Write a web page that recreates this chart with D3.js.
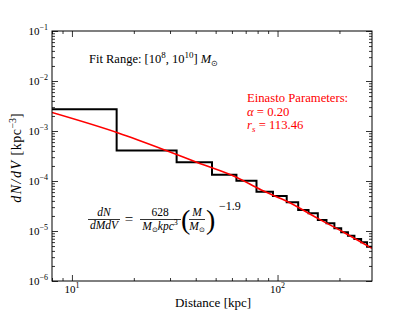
<!DOCTYPE html>
<html><head><meta charset="utf-8">
<script src="https://cdn.jsdelivr.net/npm/d3@7/dist/d3.min.js"></script>
<style>
html,body{margin:0;padding:0;background:#fff;}
svg text{font-family:"Liberation Serif","Times New Roman",serif;fill:#000;}
</style></head>
<body>
<svg id="chart" width="417" height="313"></svg>
<script>
// ---- data ----
const binEdges = [0, 16.5, 32.3, 48, 63.1, 79, 95, 110.8, 126, 141.5, 157, 173, 189, 204, 220, 236.5, 255, 272.5, 290];
const binValues = [2.72e-3, 4.07e-4, 2.37e-4, 1.34e-4, 1.01e-4, 6.11e-5, 5.01e-5, 3.75e-5, 2.63e-5, 2.26e-5, 1.66e-5, 1.43e-5, 1.13e-5, 9.42e-6, 8.05e-6, 6.92e-6, 5.94e-6, 4.85e-6];
const fitDist = [8.0, 16.8, 28.3, 41.0, 63.0, 83.4, 112.2, 156.9, 211.5, 288];
const fitValues = [2.34e-3, 9.12e-4, 4.17e-4, 2.32e-4, 1.19e-4, 6.61e-5, 3.85e-5, 1.79e-5, 9.25e-6, 4.5e-6];
const xMajorTicks = [10, 100];
const xTickExp = ["1", "2"];
const yMajorTicks = [1e-1, 1e-2, 1e-3, 1e-4, 1e-5, 1e-6];
const yTickExp = ["−1", "−2", "−3", "−4", "−5", "−6"];
const xDomain = [8, 288];
const yDomain = [1e-6, 1e-1];

// ---- layout ----
const svg = d3.select("#chart");
const m = {left: 52, top: 31, right: 372, bottom: 281};
const x = d3.scaleLog().domain(xDomain).range([m.left, m.right]);
const y = d3.scaleLog().domain(yDomain).range([m.bottom, m.top]);

function minorTicks(dom) {
  const out = [];
  const lo = Math.floor(Math.log10(dom[0])), hi = Math.ceil(Math.log10(dom[1]));
  for (let e = lo; e <= hi; e++) for (let k = 2; k <= 9; k++) {
    const v = k * Math.pow(10, e);
    if (v >= dom[0] && v <= dom[1]) out.push(v);
  }
  return out;
}
const xMinor = minorTicks(xDomain), yMinor = minorTicks(yDomain);

svg.append("clipPath").attr("id", "clip").append("rect")
  .attr("x", m.left).attr("y", m.top).attr("width", m.right - m.left).attr("height", m.bottom - m.top);

// histogram step line
const stepPts = binValues.map((v, i) => [binEdges[i], v]);
stepPts.push([binEdges[binEdges.length - 1], binValues[binValues.length - 1]]);
const stepLine = d3.line().x(d => x(Math.max(d[0], 1))).y(d => y(d[1])).curve(d3.curveStepAfter);
svg.append("path").attr("clip-path", "url(#clip)")
  .attr("d", stepLine(stepPts)).attr("fill", "none").attr("stroke", "#000").attr("stroke-width", 2);

// fit curve
const fitLine = d3.line().x(d => x(d[0])).y(d => y(d[1])).curve(d3.curveMonotoneX);
svg.append("path").attr("clip-path", "url(#clip)")
  .attr("d", fitLine(fitDist.map((d, i) => [d, fitValues[i]])))
  .attr("fill", "none").attr("stroke", "#ff0000").attr("stroke-width", 1.6);

// axes (ticks inward)
function styleAxis(g) { g.select(".domain").remove(); g.selectAll("line").attr("stroke", "#000").attr("stroke-width", 0.8); }
const majorLen = 6, minorLen = 3;
svg.append("g").attr("transform", `translate(0,${m.bottom})`).call(d3.axisBottom(x).tickValues(xMajorTicks).tickSize(-majorLen).tickFormat("")).call(styleAxis);
svg.append("g").attr("transform", `translate(0,${m.bottom})`).call(d3.axisBottom(x).tickValues(xMinor).tickSize(-minorLen).tickFormat("")).call(styleAxis);
svg.append("g").attr("transform", `translate(0,${m.top})`).call(d3.axisTop(x).tickValues(xMajorTicks).tickSize(-majorLen).tickFormat("")).call(styleAxis);
svg.append("g").attr("transform", `translate(0,${m.top})`).call(d3.axisTop(x).tickValues(xMinor).tickSize(-minorLen).tickFormat("")).call(styleAxis);
svg.append("g").attr("transform", `translate(${m.left},0)`).call(d3.axisLeft(y).tickValues(yMajorTicks).tickSize(-majorLen).tickFormat("")).call(styleAxis);
svg.append("g").attr("transform", `translate(${m.left},0)`).call(d3.axisLeft(y).tickValues(yMinor).tickSize(-minorLen).tickFormat("")).call(styleAxis);
svg.append("g").attr("transform", `translate(${m.right},0)`).call(d3.axisRight(y).tickValues(yMajorTicks).tickSize(-majorLen).tickFormat("")).call(styleAxis);
svg.append("g").attr("transform", `translate(${m.right},0)`).call(d3.axisRight(y).tickValues(yMinor).tickSize(-minorLen).tickFormat("")).call(styleAxis);

// frame
svg.append("rect").attr("x", m.left).attr("y", m.top).attr("width", m.right - m.left).attr("height", m.bottom - m.top)
  .attr("fill", "none").attr("stroke", "#000").attr("stroke-width", 1);

// tick labels
yMajorTicks.forEach((v, i) => {
  const t = svg.append("text").attr("x", m.left - 4).attr("y", y(v) + 4).attr("text-anchor", "end").attr("font-size", 11);
  t.append("tspan").text("10");
  t.append("tspan").attr("dy", -5).attr("font-size", 8).text(yTickExp[i]);
});
xMajorTicks.forEach((v, i) => {
  const t = svg.append("text").attr("x", x(v)).attr("y", 293).attr("text-anchor", "middle").attr("font-size", 11);
  t.append("tspan").text("10");
  t.append("tspan").attr("dy", -5).attr("font-size", 8).text(xTickExp[i]);
});

// axis labels
svg.append("text").attr("x", 213).attr("y", 307).attr("text-anchor", "middle").attr("font-size", 13).text("Distance [kpc]");
const yl = svg.append("text").attr("transform", "translate(21,158) rotate(-90)").attr("text-anchor", "middle").attr("font-size", 14);
yl.append("tspan").attr("font-style", "italic").attr("letter-spacing", 1.5).text("dN/dV");
yl.append("tspan").attr("letter-spacing", 0.5).text(" [kpc");
yl.append("tspan").attr("dy", -5).attr("font-size", 10).text("−3");
yl.append("tspan").attr("dy", 5).text("]");

// Fit range annotation
const fr = svg.append("text").attr("x", 89).attr("y", 63).attr("font-size", 12.5);
fr.append("tspan").text("Fit Range: [10");
fr.append("tspan").attr("dy", -5).attr("font-size", 9).text("8");
fr.append("tspan").attr("dy", 5).text(", 10");
fr.append("tspan").attr("dy", -5).attr("font-size", 9).text("10");
fr.append("tspan").attr("dy", 5).text("] ");
fr.append("tspan").attr("font-style", "italic").text("M");
fr.append("tspan").attr("dy", 3).attr("font-size", 8).text("⊙");

// Einasto parameters
const red = "#ff0000";
svg.append("text").attr("x", 247).attr("y", 102).attr("font-size", 12.7).style("fill", red).text("Einasto Parameters:");
const a = svg.append("text").attr("x", 247).attr("y", 116).attr("font-size", 12.7).style("fill", red);
a.append("tspan").attr("font-style", "italic").text("α");
a.append("tspan").text(" = 0.20");
const rs = svg.append("text").attr("x", 247).attr("y", 129).attr("font-size", 12.7).style("fill", red);
rs.append("tspan").attr("font-style", "italic").text("r");
rs.append("tspan").attr("font-style", "italic").attr("dy", 2.5).attr("font-size", 9).text("s");
rs.append("tspan").attr("dy", -2.5).text(" = 113.46");

// Formula
const fs = 11.5;
function ctext(cx, cy, parts, size) {
  const t = svg.append("text").attr("x", cx).attr("y", cy).attr("text-anchor", "middle").attr("font-size", size || fs);
  parts.forEach(p => { const s = t.append("tspan").text(p.t); if (p.i) s.attr("font-style", "italic"); if (p.dy) s.attr("dy", p.dy); if (p.fs) s.attr("font-size", p.fs); });
  return t;
}
function bar(x1, x2, yy) { svg.append("line").attr("x1", x1).attr("x2", x2).attr("y1", yy).attr("y2", yy).attr("stroke", "#000").attr("stroke-width", 0.8); }
ctext(104, 216, [{t: "dN", i: true}]);
bar(88, 120, 219.5);
ctext(104, 229, [{t: "dMdV", i: true}]);
ctext(129, 224, [{t: "="}], 15);
ctext(160, 216, [{t: "628"}]);
bar(140, 181, 219.5);
ctext(160, 230, [{t: "M", i: true}, {t: "⊙", dy: 2, fs: 7}, {t: "kpc", i: true, dy: -2}, {t: "3", dy: -5, fs: 8}]);
svg.append("text").attr("x", 181).attr("y", 229).attr("font-size", 28).attr("font-weight", 300).text("(");
ctext(197, 216, [{t: "M", i: true}]);
bar(189, 205, 219.5);
ctext(197, 230, [{t: "M", i: true}, {t: "⊙", dy: 2, fs: 7}]);
svg.append("text").attr("x", 206).attr("y", 229).attr("font-size", 28).attr("font-weight", 300).text(")");
svg.append("text").attr("x", 219).attr("y", 210).attr("font-size", 12).text("−1.9");
</script>
</body></html>
